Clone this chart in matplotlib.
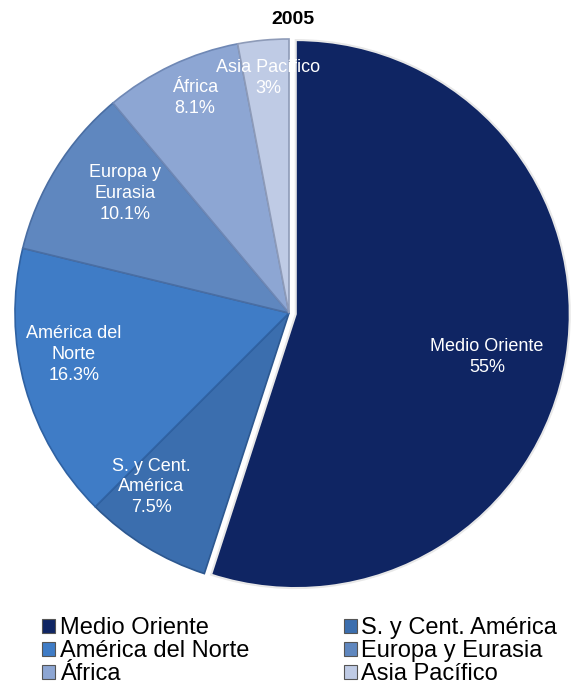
import matplotlib.pyplot as plt
import numpy as np

plt.rcParams['font.family'] = ['Liberation Sans', 'DejaVu Sans']

regions = ['Medio Oriente', 'S. y Cent. América', 'América del Norte',
           'Europa y Eurasia', 'África', 'Asia Pacífico']
inner_labels = ['Medio Oriente', 'S. y Cent.\nAmérica', 'América del\nNorte',
                'Europa y\nEurasia', 'África', 'Asia Pacífico']
shares = [55, 7.5, 16.3, 10.1, 8.1, 3]
share_text = ['55%', '7.5%', '16.3%', '10.1%', '8.1%', '3%']
colors = ['#0f2563', '#3b6eae', '#3f7cc6', '#5f87bf', '#8da6d3', '#bfcbe5']
edges = ['#0a1a48', '#2d5890', '#2f62a3', '#4a6ea3', '#6f88b5', '#8e9bb8']
# label placement inside each wedge: radius fraction and angle shift (deg)
label_r = [0.74, 0.81, 0.80, 0.74, 0.857, 0.86]
label_da = [-3.5, -6.9, -4.7, -4.3, -1.8, -0.3]

fig = plt.figure(figsize=(5.72, 6.86), dpi=100)
W, H = 572, 686
cx, cy, r = 289, 313, 274
ax = fig.add_axes([(cx - r) / W, (H - cy - r) / H, 2 * r / W, 2 * r / H])

wedges, _ = ax.pie(shares, colors=colors, startangle=90, counterclock=False,
                   explode=[0.025, 0, 0, 0, 0, 0],
                   wedgeprops=dict(linewidth=1.2))
for w, ec in zip(wedges, edges):
    w.set_edgecolor(ec)
wedges[0].set_edgecolor('#e8e8e8')
wedges[0].set_linewidth(1.5)

for w, lab, pct, rr, da in zip(wedges, inner_labels, share_text, label_r, label_da):
    ang = np.deg2rad((w.theta1 + w.theta2) / 2 + da)
    ax.text(rr * np.cos(ang), rr * np.sin(ang), lab + '\n' + pct,
            ha='center', va='center', color='white', fontsize=13,
            linespacing=1.3)

ax.set_xlim(-1, 1)
ax.set_ylim(-1, 1)
ax.set_aspect('equal')
ax.axis('off')

fig.text(0.512, 1 - 20 / H, '2005', ha='center', va='center',
         fontsize=14, fontweight='bold')

# legend filled row by row: two entries per row
order = [0, 2, 4, 1, 3, 5]
leg = fig.legend([wedges[i] for i in order], [regions[i] for i in order],
                 loc='upper left', ncol=2,
                 bbox_to_anchor=(42 / W, 1 - 617 / H), frameon=False,
                 fontsize=17, handlelength=0.55, handleheight=0.55,
                 handletextpad=0.2, columnspacing=4.0, labelspacing=0.05,
                 borderaxespad=0, borderpad=0)
for h in leg.legend_handles:
    h.set_edgecolor('#555555')
    h.set_linewidth(0.8)

fig.savefig('out.png', dpi=100)
